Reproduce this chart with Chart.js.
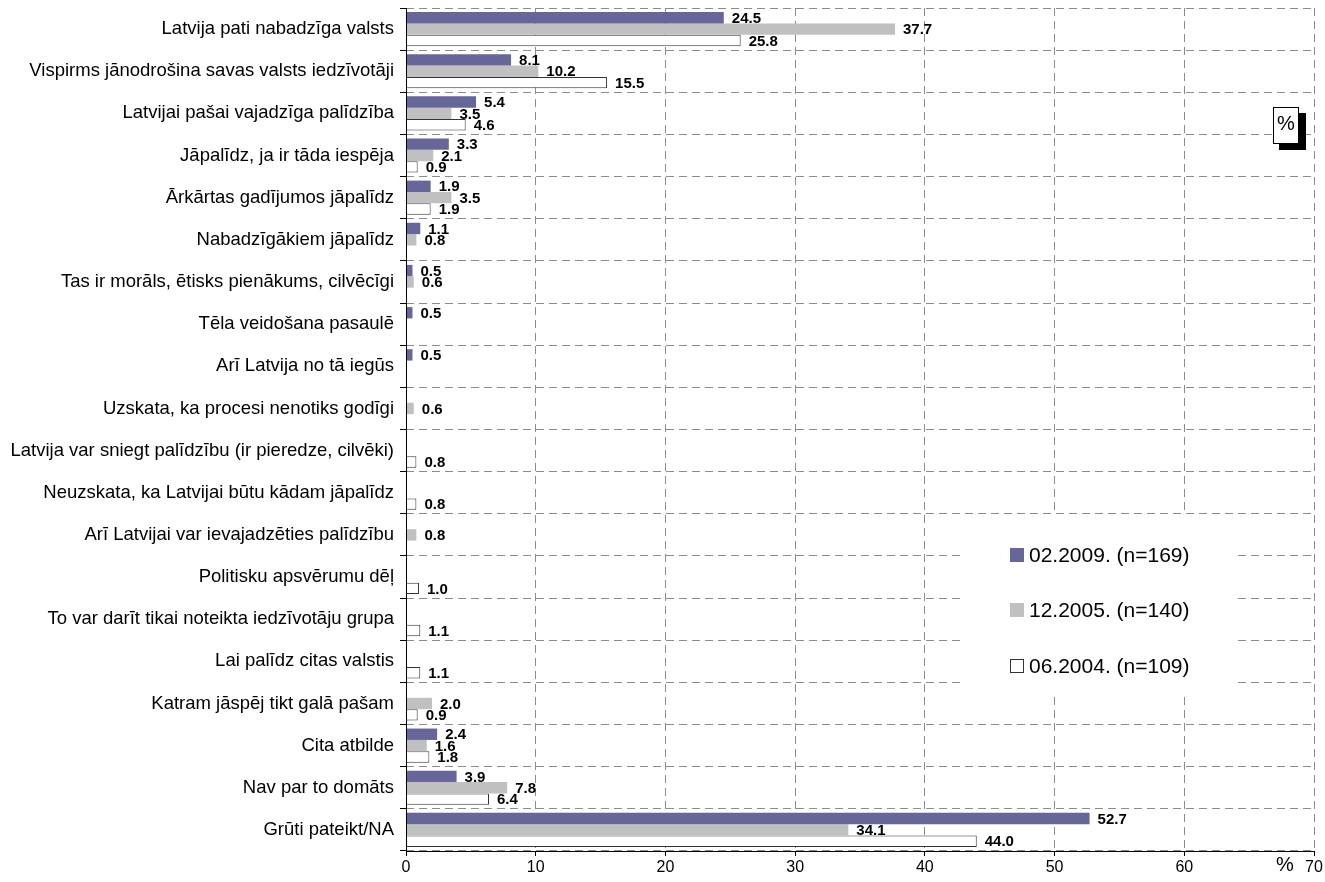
<!DOCTYPE html>
<html>
<head>
<meta charset="utf-8">
<script src="https://cdn.jsdelivr.net/npm/chart.js@4/dist/chart.umd.min.js"></script>
<style>
  html, body { margin: 0; padding: 0; background: #fff; }
  #wrap { width: 1325px; height: 882px; }
</style>
</head>
<body>
<div id="wrap"><canvas id="chart"></canvas></div>
<script>
// Kategorijas un vērtības (%), nolasītas no attēla
const categories = [
  'Latvija pati nabadzīga valsts',
  'Vispirms jānodrošina savas valsts iedzīvotāji',
  'Latvijai pašai vajadzīga palīdzība',
  'Jāpalīdz, ja ir tāda iespēja',
  'Ārkārtas gadījumos jāpalīdz',
  'Nabadzīgākiem jāpalīdz',
  'Tas ir morāls, ētisks pienākums, cilvēcīgi',
  'Tēla veidošana pasaulē',
  'Arī Latvija no tā iegūs',
  'Uzskata, ka procesi nenotiks godīgi',
  'Latvija var sniegt palīdzību (ir pieredze, cilvēki)',
  'Neuzskata, ka Latvijai būtu kādam jāpalīdz',
  'Arī Latvijai var ievajadzēties palīdzību',
  'Politisku apsvērumu dēļ',
  'To var darīt tikai noteikta iedzīvotāju grupa',
  'Lai palīdz citas valstis',
  'Katram jāspēj tikt galā pašam',
  'Cita atbilde',
  'Nav par to domāts',
  'Grūti pateikt/NA'
];
const seriesLabels = ['02.2009. (n=169)', '12.2005. (n=140)', '06.2004. (n=109)'];
const values2009 = [24.5, 8.1, 5.4, 3.3, 1.9, 1.1, 0.5, 0.5, 0.5, null, null, null, null, null, null, null, null, 2.4, 3.9, 52.7];
const values2005 = [37.7, 10.2, 3.5, 2.1, 3.5, 0.8, 0.6, null, null, 0.6, null, null, 0.8, null, null, null, 2.0, 1.6, 7.8, 34.1];
const values2004 = [25.8, 15.5, 4.6, 0.9, 1.9, null, null, null, null, null, 0.8, 0.8, null, 1.0, 1.1, 1.1, 0.9, 1.8, 6.4, 44.0];
const xTicks = [0, 10, 20, 30, 40, 50, 60, 70];

const FONT = 'Arial, "Liberation Sans", sans-serif';
const colPurple = '#666699';
const colGray = '#C0C0C0';
const colWhite = '#FFFFFF';

// vērtību uzraksti pie stabiņiem + nepārtrauktas asu līnijas
const valueLabels = {
  id: 'valueLabels',
  afterDatasetsDraw(chart) {
    const ctx = chart.ctx;
    const area = chart.chartArea;
    ctx.save();
    ctx.strokeStyle = '#000';
    ctx.lineWidth = 1;
    ctx.setLineDash([]);
    ctx.beginPath();
    ctx.moveTo(Math.round(area.left) + 0.5, area.top);
    ctx.lineTo(Math.round(area.left) + 0.5, Math.round(area.bottom) + 0.5);
    ctx.lineTo(area.right, Math.round(area.bottom) + 0.5);
    ctx.stroke();

    ctx.font = 'bold 15px ' + FONT;
    ctx.fillStyle = '#000';
    ctx.textAlign = 'left';
    ctx.textBaseline = 'middle';
    chart.data.datasets.forEach((ds, i) => {
      chart.getDatasetMeta(i).data.forEach((bar, j) => {
        const v = ds.data[j];
        if (v === null || v === undefined) return;
        ctx.fillText(v.toFixed(1), bar.x + 8, bar.y + 1);
      });
    });
    ctx.restore();
  }
};

// leģenda diagrammas iekšpusē + "%" rāmītis
const extras = {
  id: 'extras',
  afterDraw(chart) {
    const ctx = chart.ctx;
    const ds = chart.data.datasets;
    ctx.save();
    // leģendas fons
    ctx.fillStyle = '#fff';
    ctx.fillRect(960, 515, 278, 177);
    const rows = [555, 610, 666];
    ctx.font = '21px ' + FONT;
    ctx.textBaseline = 'middle';
    ctx.textAlign = 'left';
    ds.forEach((d, i) => {
      ctx.fillStyle = d.backgroundColor;
      ctx.fillRect(1010, rows[i] - 7, 14, 14);
      if (d.borderWidth) {
        ctx.strokeStyle = '#333';
        ctx.lineWidth = 1;
        ctx.strokeRect(1010.5, rows[i] - 6.5, 13, 13);
      }
      ctx.fillStyle = '#000';
      ctx.fillText(d.label, 1029, rows[i] + 1);
    });

    // "%" rāmītis ar ēnu
    ctx.fillStyle = '#000';
    ctx.fillRect(1279, 113, 27, 37);
    ctx.fillStyle = '#fff';
    ctx.fillRect(1273, 107, 26, 37);
    ctx.strokeStyle = '#000';
    ctx.lineWidth = 1;
    ctx.strokeRect(1273.5, 107.5, 25, 36);
    ctx.fillStyle = '#000';
    ctx.textAlign = 'center';
    ctx.font = '20px ' + FONT;
    ctx.fillText('%', 1286, 124);

    // ass nosaukums
    ctx.fillText('%', 1285, 865);
    ctx.restore();
  }
};

new Chart(document.getElementById('chart'), {
  type: 'bar',
  data: {
    labels: categories,
    datasets: [
      { label: seriesLabels[0], data: values2009, backgroundColor: colPurple, borderWidth: 0 },
      { label: seriesLabels[1], data: values2005, backgroundColor: colGray, borderWidth: 0 },
      { label: seriesLabels[2], data: values2004, backgroundColor: colWhite, borderColor: '#333', borderWidth: 1 }
    ]
  },
  options: {
    indexAxis: 'y',
    responsive: true,
    maintainAspectRatio: false,
    animation: false,
    categoryPercentage: 0.81,
    barPercentage: 1.0,
    layout: { padding: { left: 0, right: 11, top: 8, bottom: 0 } },
    plugins: {
      legend: { display: false },
      tooltip: { enabled: false }
    },
    scales: {
      x: {
        type: 'linear',
        min: 0,
        max: 70,
        afterBuildTicks: (scale) => { scale.ticks = xTicks.map(v => ({ value: v })); },
        afterFit: (scale) => { scale.height = 31; },
        grid: {
          color: '#8c8c8c',
          tickLength: 5,
          tickColor: '#000',
          tickBorderDash: []
        },
        border: { display: false, dash: [8, 5] },
        ticks: {
          color: '#000',
          font: { family: FONT, size: 16 },
          padding: 2,
          maxRotation: 0
        }
      },
      y: {
        afterFit: (scale) => {
          scale.width = 406;
          scale.paddingTop = 0;
          scale.paddingBottom = 0;
        },
        grid: {
          offset: true,
          color: '#8c8c8c',
          tickLength: 6,
          tickColor: '#000',
          tickBorderDash: []
        },
        border: { display: false, dash: [8, 5] },
        ticks: {
          color: '#000',
          font: { family: FONT, size: 18.5 },
          padding: 6,
          autoSkip: false
        }
      }
    }
  },
  plugins: [valueLabels, extras]
});
</script>
</body>
</html>
